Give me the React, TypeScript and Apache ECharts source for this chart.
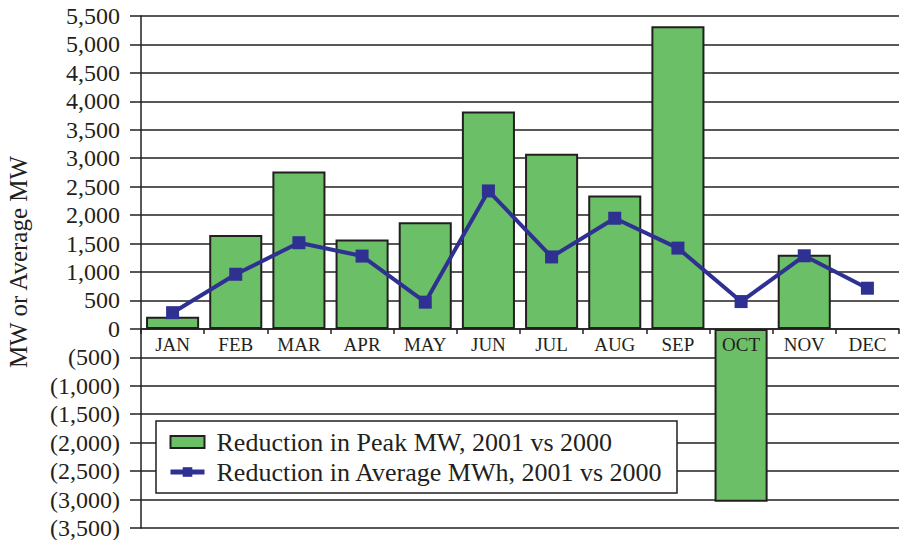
import React, { useEffect, useRef } from "react";
import * as echarts from "echarts";

const months = ["JAN", "FEB", "MAR", "APR", "MAY", "JUN", "JUL", "AUG", "SEP", "OCT", "NOV", "DEC"];
const peakMW = [215, 1650, 2765, 1570, 1875, 3820, 3080, 2345, 5320, -3040, 1305, null];
const avgMWh = [285, 960, 1515, 1280, 470, 2425, 1265, 1945, 1420, 480, 1285, 715];
const peakName = "Reduction in Peak MW, 2001 vs 2000";
const avgName = "Reduction in Average MWh, 2001 vs 2000";
const yMin = -3500;
const yMax = 5500;
const yStep = 500;
const yTitle = "MW or Average MW";

const FONT = "Liberation Serif";
const GREEN = "#6BBF67";
const NAVY = "#2E3192";
const DARK = "#231F20";

const GRID_TOP = 16;
const GRID_BOTTOM = 12;
const H = 540;

function fmt(v: number): string {
  const s = Math.abs(v).toLocaleString("en-US");
  return v < 0 ? `(${s})` : s;
}

export default function App() {
  const ref = useRef<HTMLDivElement>(null);
  useEffect(() => {
    if (!ref.current) return;
    const chart = echarts.init(ref.current, undefined, { renderer: "svg" });
    const plotH = H - GRID_TOP - GRID_BOTTOM;
    const zeroOffset = -(plotH * (0 - yMin)) / (yMax - yMin);
    chart.setOption({
      animation: false,
      backgroundColor: "#fff",
      textStyle: { fontFamily: FONT },
      grid: {
        left: 141,
        right: 8,
        top: GRID_TOP,
        bottom: GRID_BOTTOM,
        containLabel: false,
        outerBoundsMode: "none",
      },
      graphic: [
        {
          type: "text",
          x: 18,
          y: 262,
          rotation: Math.PI / 2,
          style: {
            text: yTitle,
            fontFamily: FONT,
            fontSize: 25,
            fill: DARK,
            align: "center",
            verticalAlign: "middle",
          },
        },
      ],
      legend: {
        orient: "vertical",
        left: 156,
        top: 421,
        backgroundColor: "#fff",
        borderColor: DARK,
        borderWidth: 1.5,
        borderRadius: 0,
        padding: [8, 14, 8, 12],
        itemGap: 4,
        itemWidth: 34,
        itemHeight: 12,
        textStyle: { fontFamily: FONT, fontSize: 26, color: DARK, padding: [0, 0, 0, 7] },
        data: [
          { name: peakName, icon: "rect", itemStyle: { borderWidth: 2, borderColor: DARK } },
          { name: avgName, lineStyle: { width: 5, color: NAVY } },
        ],
      },
      xAxis: {
        type: "category",
        data: months,
        position: "bottom",
        offset: zeroOffset,
        z: 5,
        axisLine: { onZero: false, lineStyle: { color: DARK, width: 1.5 } },
        axisTick: { show: true, interval: 0, length: 5, lineStyle: { color: DARK, width: 1.5 } },
        axisLabel: { interval: 0, fontFamily: FONT, fontSize: 19, color: DARK, margin: 6 },
        splitLine: { show: false },
      },
      yAxis: {
        type: "value",
        min: yMin,
        max: yMax,
        interval: yStep,
        axisLine: { show: true, onZero: false, lineStyle: { color: DARK, width: 1.5 } },
        axisTick: { show: true, length: 11, lineStyle: { color: DARK, width: 1.5 } },
        axisLabel: {
          fontFamily: FONT,
          fontSize: 24,
          color: DARK,
          margin: 21,
          formatter: (v: number) => fmt(v),
        },
        splitLine: { show: true, lineStyle: { color: DARK, width: 1.5 } },
      },
      series: [
        {
          name: peakName,
          type: "bar",
          data: peakMW,
          barCategoryGap: "16%",
          itemStyle: { color: GREEN, borderColor: DARK, borderWidth: 2 },
          z: 2,
        },
        {
          name: avgName,
          type: "line",
          data: avgMWh,
          symbol: "rect",
          symbolSize: 13,
          lineStyle: { color: NAVY, width: 4 },
          itemStyle: { color: NAVY },
          z: 3,
        },
      ],
    });
    return () => chart.dispose();
  }, []);
  return (
    <div
      ref={ref}
      style={{ position: "absolute", left: 0, top: 0, width: 907, height: 540 }}
    />
  );
}
